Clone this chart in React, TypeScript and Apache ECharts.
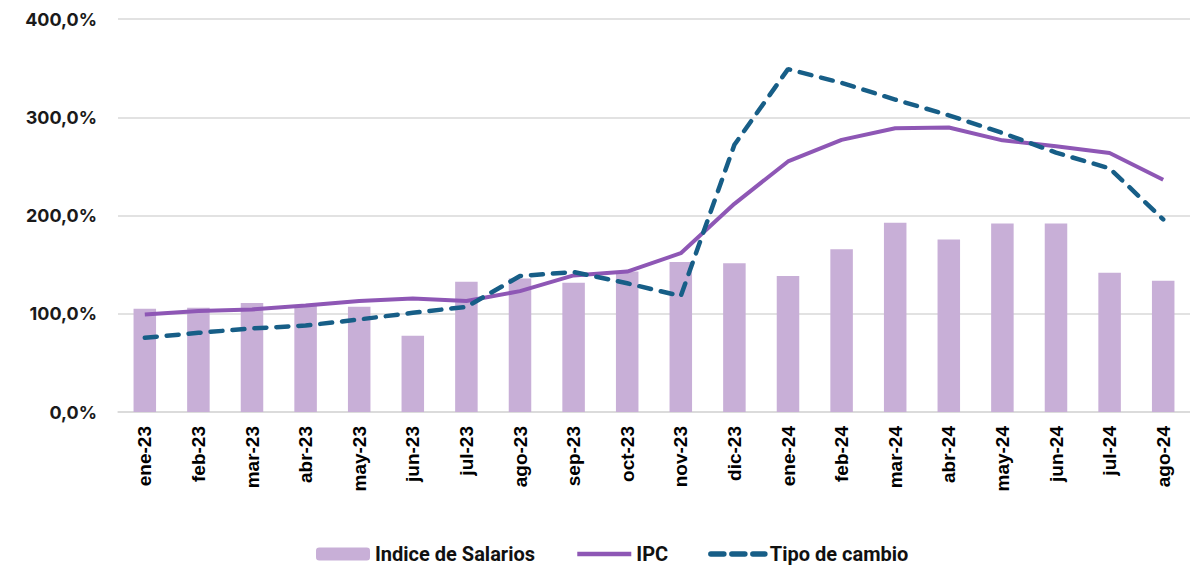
import React, { useEffect, useRef } from "react";
import * as echarts from "echarts";

const categories = [
  "ene-23", "feb-23", "mar-23", "abr-23", "may-23", "jun-23", "jul-23", "ago-23", "sep-23", "oct-23",
  "nov-23", "dic-23", "ene-24", "feb-24", "mar-24", "abr-24", "may-24", "jun-24", "jul-24", "ago-24",
];
const salarios = [105, 106, 111, 108, 107, 77.5, 132.5, 136, 131.5, 143, 152.7, 151.4, 138.4, 165.6, 192.5, 175.5, 191.8, 191.8, 141.8, 133.7];
const ipc = [99.3, 102.7, 104.4, 108.5, 112.9, 115.6, 113, 123, 139, 142.9, 161.6, 211.9, 255, 277, 288.8, 289.5, 276.5, 270.4, 263.6, 236.4];
const tipoCambio = [75.5, 80.6, 85, 88, 94.2, 101, 107, 138.4, 142.5, 131, 118, 272, 349, 335, 318, 302, 284, 264, 248, 196];

export default function App() {
  const ref = useRef<HTMLDivElement>(null);
  useEffect(() => {
    if (!ref.current) return;
    const chart = echarts.init(ref.current, null, { renderer: "svg" });
    chart.setOption({
      animation: false,
      backgroundColor: "#ffffff",
      grid: { left: 118, right: 0, top: 19, bottom: 156, containLabel: false },
      legend: {
        top: 540,
        left: 311,
        padding: [4, 5, 4, 5],
        itemWidth: 54,
        itemHeight: 13,
        itemGap: 40,
        textStyle: { fontFamily: "Roboto", fontWeight: "bold", fontSize: 20, color: "#111" },
        data: [
          { name: "Indice de Salarios" },
          { name: "IPC", itemStyle: { opacity: 0 }, lineStyle: { width: 4.5 } },
          { name: "Tipo de cambio", itemStyle: { opacity: 0 }, lineStyle: { type: [13, 8], width: 5.5 } },
        ],
      },
      xAxis: {
        type: "category",
        data: categories,
        axisLine: { lineStyle: { color: "#d9d9d9", width: 1.5 } },
        axisTick: { show: false },
        axisLabel: {
          rotate: 90,
          margin: 14,
          fontFamily: "Liberation Sans",
          fontWeight: "bold",
          fontSize: 19,
          color: "#000",
        },
      },
      yAxis: {
        type: "value",
        min: 0,
        max: 400,
        interval: 100,
        axisLine: { show: false },
        axisTick: { show: false },
        splitLine: { lineStyle: { color: "#d9d9d9", width: 1.5 } },
        axisLabel: {
          margin: 21,
          fontFamily: "Inter",
          fontWeight: "bold",
          fontSize: 18,
          color: "#1a1a1a",
          formatter: (v: number) => v.toFixed(1).replace(".", ",") + "%",
        },
      },
      series: [
        {
          name: "Indice de Salarios",
          type: "bar",
          data: salarios,
          barWidth: "42%",
          itemStyle: { color: "#c8afd7" },
        },
        {
          name: "IPC",
          type: "line",
          data: ipc,
          symbol: "none",
          lineStyle: { color: "#8e57b5", width: 4 },
          itemStyle: { color: "#8e57b5" },
        },
        {
          name: "Tipo de cambio",
          type: "line",
          data: tipoCambio,
          symbol: "none",
          lineStyle: { color: "#175e87", width: 4.5, type: [12, 10], cap: "round" },
          itemStyle: { color: "#175e87" },
        },
      ],
    });
    return () => chart.dispose();
  }, []);
  return (
    <div
      ref={ref}
      style={{ position: "fixed", left: 0, top: 0, width: 1190, height: 568 }}
    />
  );
}
